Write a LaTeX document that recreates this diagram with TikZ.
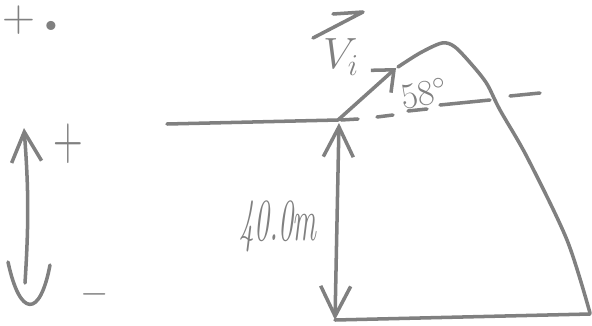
\documentclass[tikz,border=0pt]{standalone}
\usetikzlibrary{arrows.meta}
\definecolor{gris}{RGB}{128,128,128}
\tikzset{
  pointe/.tip={Straight Barb[length=6mm,width=6mm]},
  petitepointe/.tip={Straight Barb[length=3.5mm,width=6mm]},
  trait/.style={draw=gris, line width=2pt, line cap=round, line join=round},
  fleche/.style={trait, -pointe},
  flecheDouble/.style={trait, pointe-pointe},
  texte/.style={text=gris, inner sep=0pt},
}
\begin{document}
\begin{tikzpicture}[x=0.02cm, y=-0.02cm]
  \fill[white] (0,0) rectangle (592,325);
  \useasboundingbox (0,0) rectangle (592,325);

  % En haut à gauche
  \node[texte, font=\fontsize{26}{26}\selectfont] (plusHaut) at (19,20) {+};
  \node[texte, font=\fontsize{36}{36}\selectfont\bfseries] (point) at (51,26) {.};

  % Sens positif
  \coordinate (bas) at (25,283);
  \coordinate (haut) at (24,128);
  \draw[fleche] (bas) to[bend right=4] (haut);
  \draw[trait] (8,262) .. controls (20,318) and (40,318) .. (50,265);
  \node[texte, xscale=0.65, font=\fontsize{36}{36}\selectfont] (plus) at (68,144) {+};
  \node[texte, font=\fontsize{22}{22}\selectfont] (moins) at (95,294) {$-$};

  % Sol et horizontale
  \coordinate (O) at (338,120);
  \draw[trait] (167,124) -- (O);
  \foreach \xa/\ya/\xb/\yb in {341/120/358/119, 377/117/393/115, 408/111/427/109, 440/105/490/100, 510/96/540/93}
    \draw[trait] (\xa,\ya) -- (\xb,\yb);

  % Falaise
  \coordinate (pied) at (335,320);
  \coordinate (sommet) at (339,123);
  \draw[flecheDouble] (pied) -- (sommet);
  \draw[trait] (pied) -- (590,314);
  \node[texte, xscale=0.5, font=\fontsize{34}{34}\selectfont\itshape] (hauteur) at (278,226) {40.0m};

  % Vitesse initiale
  \coordinate (bout) at (396,68);
  \draw[trait, -petitepointe] (O) -- (bout);
  \node[texte, font=\fontsize{26}{26}\selectfont] (vi) at (341,57) {$V_i$};
  \draw[trait] (313,38) -- (363,12) -- (333,14);
  \node[texte, rotate=10, font=\fontsize{20}{20}\selectfont] (angle) at (424,93) {$58^{\circ}$};

  % Trajectoire
  \draw[trait] plot[smooth] coordinates {(398,67) (420,53) (442,43) (455,47) (473,66) (487,84) (500,110) (527,157) (567,240) (590,313)};
\end{tikzpicture}
\end{document}
